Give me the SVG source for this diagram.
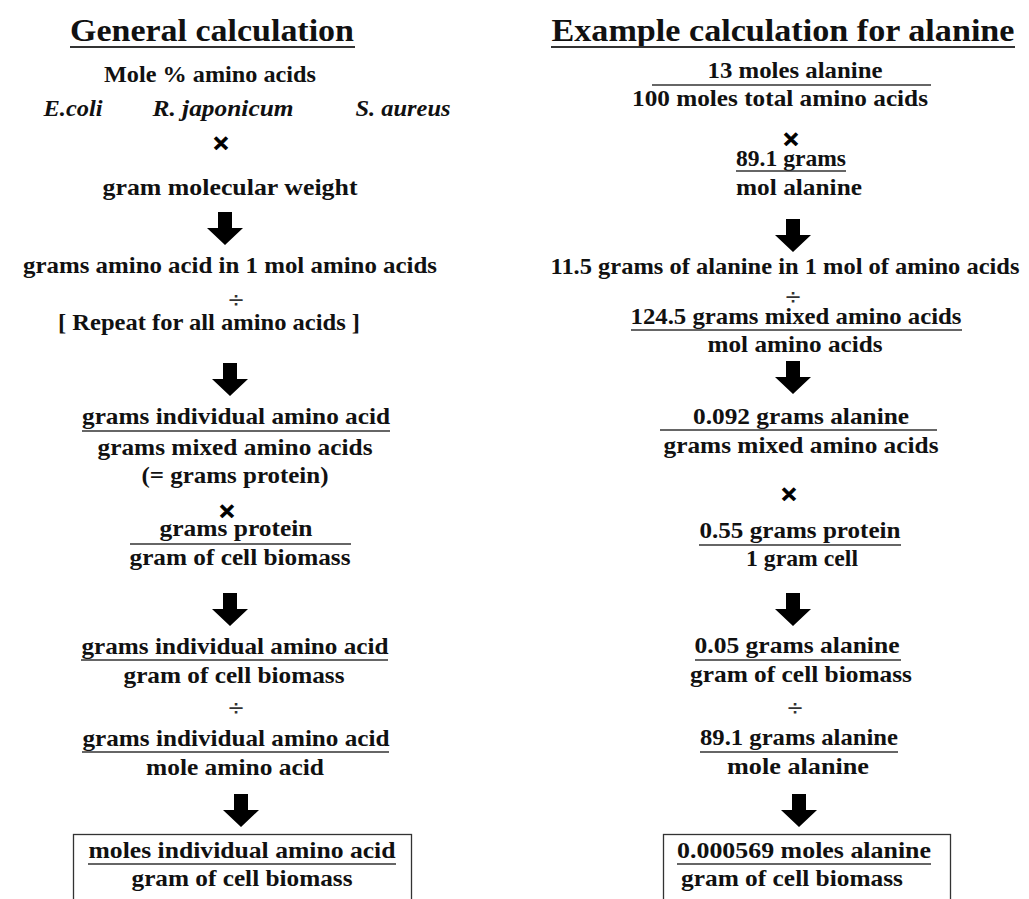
<svg xmlns="http://www.w3.org/2000/svg" xmlns:xlink="http://www.w3.org/1999/xlink" width="1029" height="899" viewBox="0 0 1029 899">
<style>
text{font-family:"Liberation Serif","DejaVu Serif",serif;font-weight:bold;fill:#111;text-anchor:middle;}
.t{font-size:32px;}
.b{font-size:23px;}
.i{font-style:italic;font-size:23px;}
.op{font-family:"DejaVu Sans","Liberation Sans",sans-serif;font-size:22px;fill:#000;stroke:#000;stroke-width:1;}
.dv{font-family:"DejaVu Sans",sans-serif;font-weight:normal;font-size:21px;fill:#333;}
.u{stroke:#333;stroke-width:1.6;}
.ut{stroke:#333;stroke-width:2.2;}
.box{fill:none;stroke:#333;stroke-width:1.3;}
</style>
<defs>
<path id="arr" d="M-7,0 H7 V16 H18 L0,33 L-18,16 H-7 Z" fill="#000"/>
</defs>
<rect width="1029" height="899" fill="#fff"/>

<g id="connectors">
<use xlink:href="#arr" x="225" y="212"/>
<use xlink:href="#arr" x="230" y="363"/>
<use xlink:href="#arr" x="230" y="593"/>
<use xlink:href="#arr" x="241" y="794"/>
<use xlink:href="#arr" x="793" y="219"/>
<use xlink:href="#arr" x="793" y="361"/>
<use xlink:href="#arr" x="793" y="593"/>
<use xlink:href="#arr" x="799" y="794"/>
<text class="op" x="221" y="150">×</text>
<text class="op" x="227" y="518">×</text>
<text class="op" x="791" y="146">×</text>
<text class="op" x="789" y="501">×</text>
<text class="dv" x="236" y="307">÷</text>
<text class="dv" x="236" y="715">÷</text>
<text class="dv" x="793" y="304">÷</text>
<text class="dv" x="795" y="715">÷</text>
</g>

<g id="title-left">
<text class="t" x="212" y="41" textLength="284" lengthAdjust="spacingAndGlyphs">General calculation</text>
<line class="ut" x1="70" y1="47" x2="355" y2="47"/>
</g>
<g id="title-right">
<text class="t" x="783" y="41" textLength="463" lengthAdjust="spacingAndGlyphs">Example calculation for  alanine</text>
<line class="ut" x1="551" y1="47" x2="1015" y2="47"/>
</g>

<g id="mole-percent">
<text class="b" x="210" y="82" textLength="212" lengthAdjust="spacingAndGlyphs">Mole % amino acids</text>
<text class="i" x="73" y="116" textLength="59" lengthAdjust="spacingAndGlyphs">E.coli</text>
<text class="i" x="223" y="116" textLength="141" lengthAdjust="spacingAndGlyphs">R. japonicum</text>
<text class="i" x="403" y="116" textLength="95" lengthAdjust="spacingAndGlyphs">S. aureus</text>
</g>
<g id="gmw">
<text class="b" x="230" y="195" textLength="255" lengthAdjust="spacingAndGlyphs">gram molecular  weight</text>
</g>
<g id="grams-in-mol">
<text class="b" x="230" y="273" textLength="414" lengthAdjust="spacingAndGlyphs">grams amino acid in 1 mol amino acids</text>
</g>
<g id="repeat">
<text class="b" x="209" y="330" textLength="302" lengthAdjust="spacingAndGlyphs">[ Repeat for all amino acids ]</text>
</g>
<g id="frac1">
<text class="b" x="236" y="424" textLength="308" lengthAdjust="spacingAndGlyphs">grams individual amino acid</text>
<line class="u" x1="82" y1="431" x2="390" y2="431"/>
<text class="b" x="235" y="455" textLength="275" lengthAdjust="spacingAndGlyphs">grams mixed amino acids</text>
<text class="b" x="235" y="483" textLength="187" lengthAdjust="spacingAndGlyphs">(= grams protein)</text>
</g>
<g id="frac2">
<text class="b" x="236" y="536" textLength="153" lengthAdjust="spacingAndGlyphs">grams protein</text>
<line class="u" x1="130" y1="544" x2="351" y2="544"/>
<text class="b" x="240" y="565" textLength="221" lengthAdjust="spacingAndGlyphs">gram of cell biomass</text>
</g>
<g id="frac3">
<text class="b" x="235" y="654" textLength="307" lengthAdjust="spacingAndGlyphs">grams individual amino acid</text>
<line class="u" x1="81" y1="660" x2="388" y2="660"/>
<text class="b" x="234" y="683" textLength="221" lengthAdjust="spacingAndGlyphs">gram of cell biomass</text>
</g>
<g id="frac4">
<text class="b" x="236" y="746" textLength="307" lengthAdjust="spacingAndGlyphs">grams individual amino acid</text>
<line class="u" x1="82" y1="752" x2="389" y2="752"/>
<text class="b" x="235" y="775" textLength="178" lengthAdjust="spacingAndGlyphs">mole amino acid</text>
</g>
<g id="result-left">
<rect class="box" x="73.5" y="834.5" width="338" height="80"/>
<text class="b" x="242" y="858" textLength="307" lengthAdjust="spacingAndGlyphs">moles individual amino acid</text>
<line class="u" x1="88" y1="864" x2="396" y2="864"/>
<text class="b" x="242" y="886" textLength="221" lengthAdjust="spacingAndGlyphs">gram of cell biomass</text>
</g>

<g id="r-frac1">
<text class="b" x="795" y="78" textLength="175" lengthAdjust="spacingAndGlyphs">13 moles alanine</text>
<line class="u" x1="652" y1="85" x2="931" y2="85"/>
<text class="b" x="780" y="106" textLength="296" lengthAdjust="spacingAndGlyphs">100 moles total amino acids</text>
</g>
<g id="r-frac2">
<text class="b" x="791" y="166" textLength="110" lengthAdjust="spacingAndGlyphs">89.1 grams</text>
<line class="u" x1="736" y1="171" x2="846" y2="171"/>
<text class="b" x="799" y="195" textLength="126" lengthAdjust="spacingAndGlyphs">mol alanine</text>
</g>
<g id="r-grams-in-mol">
<text class="b" x="785" y="274" textLength="469" lengthAdjust="spacingAndGlyphs">11.5 grams of alanine in 1 mol of amino acids</text>
</g>
<g id="r-frac3">
<text class="b" x="796" y="324" textLength="331" lengthAdjust="spacingAndGlyphs">124.5 grams mixed amino acids</text>
<line class="u" x1="631" y1="330" x2="962" y2="330"/>
<text class="b" x="795" y="352" textLength="175" lengthAdjust="spacingAndGlyphs">mol amino acids</text>
</g>
<g id="r-frac4">
<text class="b" x="801" y="424" textLength="216" lengthAdjust="spacingAndGlyphs">0.092 grams alanine</text>
<line class="u" x1="660" y1="430" x2="937" y2="430"/>
<text class="b" x="801" y="453" textLength="275" lengthAdjust="spacingAndGlyphs">grams mixed amino acids</text>
</g>
<g id="r-frac5">
<text class="b" x="800" y="538" textLength="201" lengthAdjust="spacingAndGlyphs">0.55 grams protein</text>
<line class="u" x1="699" y1="545" x2="901" y2="545"/>
<text class="b" x="802" y="566" textLength="112" lengthAdjust="spacingAndGlyphs">1 gram cell</text>
</g>
<g id="r-frac6">
<text class="b" x="797" y="653" textLength="205" lengthAdjust="spacingAndGlyphs">0.05 grams alanine</text>
<line class="u" x1="695" y1="660" x2="901" y2="660"/>
<text class="b" x="801" y="682" textLength="222" lengthAdjust="spacingAndGlyphs">gram of cell biomass</text>
</g>
<g id="r-frac7">
<text class="b" x="799" y="745" textLength="198" lengthAdjust="spacingAndGlyphs">89.1 grams alanine</text>
<line class="u" x1="700" y1="752" x2="898" y2="752"/>
<text class="b" x="798" y="774" textLength="142" lengthAdjust="spacingAndGlyphs">mole alanine</text>
</g>
<g id="result-right">
<rect class="box" x="663.5" y="834.5" width="287" height="80"/>
<text class="b" x="804" y="858" textLength="254" lengthAdjust="spacingAndGlyphs">0.000569 moles alanine</text>
<line class="u" x1="677" y1="864" x2="931" y2="864"/>
<text class="b" x="792" y="886" textLength="222" lengthAdjust="spacingAndGlyphs">gram of cell biomass</text>
</g>
</svg>
